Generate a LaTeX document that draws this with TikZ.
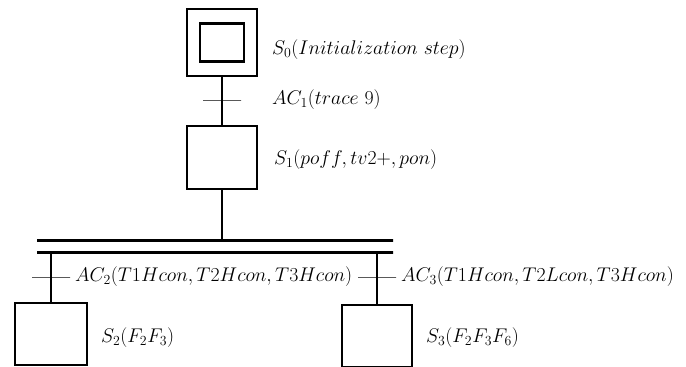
\RequirePackage{fix-cm}
\documentclass[tikz,border=0pt]{standalone}
\usepackage{amsmath}
\usepackage{tikz}
\usetikzlibrary{positioning}

\begin{document}
\begin{tikzpicture}[
    x=1pt, y=-1pt,
    stepbox/.style={draw, line width=2.8pt, minimum width=70pt, minimum height=63pt, inner sep=0pt},
    initbox/.style={draw, line width=2.8pt, minimum width=44pt, minimum height=38pt, inner sep=0pt},
    bar/.style={draw, line width=3pt, minimum width=356pt, minimum height=0pt, inner sep=0pt},
    tick/.style={draw, line width=0.9pt, minimum width=38pt, minimum height=0pt, inner sep=0pt},
    link/.style={line width=2.8pt},
    lbl/.style={anchor=west, inner sep=0pt, font=\fontsize{19.8}{24}\selectfont}
]
\useasboundingbox (0,0) rectangle (686,367);
\clip (0,0) rectangle (686,367);

% Steps
\node[stepbox, minimum height=67pt] (s0) at (222,42.5) {};
\node[initbox] (s0in) at (s0) {};
\node[stepbox] (s1) at (222,157.5) {};
\node[stepbox, minimum width=72pt, minimum height=62pt] (s2) at (51,334) {};
\node[stepbox, minimum height=62pt] (s3) at (377,336) {};

% Divergence bars
\node[bar] (bartop) at (215,240) {};
\node[bar] (barbot) at (215,252) {};

% Links
\draw[link] (s0) -- (s1);
\draw[link] (s1) -- (s1 |- bartop);
\draw[link] (barbot -| s2) -- (s2);
\draw[link] (barbot -| s3) -- (s3);

% Transitions
\node[tick] (ac1) at (222,100) {};
\node[tick] (ac2) at (51,277) {};
\node[tick] (ac3) at (377,277) {};

% Labels
\node[lbl] (s0lbl) at (272,50) {$S_0(Initialization\ step)$};
\node[lbl] (ac1lbl) at (272,100) {$AC_1(trace\ 9)$};
\node[lbl] (s1lbl) at (274,160) {$S_1(poff,tv2+,pon)$};
\node[lbl] (ac2lbl) at (75,277) {$AC_2(T1Hcon,T2Hcon,T3Hcon)$};
\node[lbl] (ac3lbl) at (401,277) {$AC_3(T1Hcon,T2Lcon,T3Hcon)$};
\node[lbl] (s2lbl) at (101,338) {$S_2(F_2F_3)$};
\node[lbl] (s3lbl) at (426,338) {$S_3(F_2F_3F_6)$};
\end{tikzpicture}
\end{document}
